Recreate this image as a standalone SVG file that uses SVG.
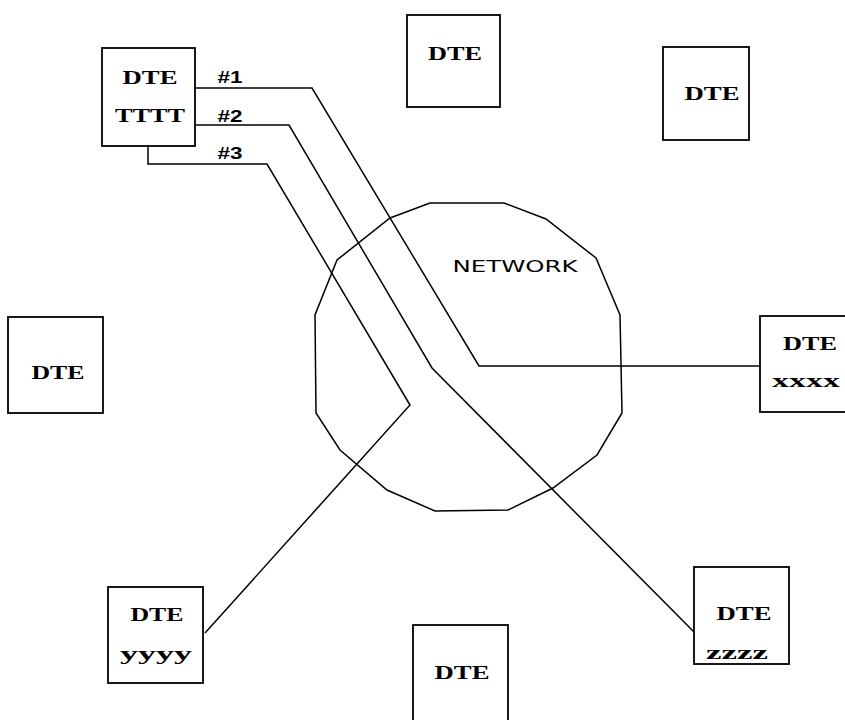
<svg xmlns="http://www.w3.org/2000/svg" width="845" height="720" viewBox="0 0 845 720">
<style>
.box{fill:#fff;stroke:#000;stroke-width:1.8}
.lbl{font-family:"Liberation Serif","DejaVu Serif",serif;font-weight:bold;font-size:19px;text-anchor:middle;fill:#000}
.sm{font-family:"Liberation Sans","DejaVu Sans",sans-serif;font-weight:bold;font-size:16px;text-anchor:middle;fill:#000}
.net{font-family:"DejaVu Sans","Liberation Sans",sans-serif;font-size:16px;text-anchor:middle;fill:#000}
.wire{fill:none;stroke:#000;stroke-width:1.5;stroke-linejoin:miter}
</style>
<rect width="845" height="720" fill="#fff"/>
<g id="network">
<polygon class="wire" points="430,203 504,203 546,219 596,258 620,315 622,413 597,455 553,488 508,510 435,511 387,490 340,450 316,413 315,315 337,260 390,218"/>
<text class="net" x="515" y="272" textLength="125" lengthAdjust="spacingAndGlyphs">NETWORK</text>
</g>
<g id="connectors">
<polyline class="wire" points="195,88 312,88 479,366 760,366"/>
<polyline class="wire" points="195,125 289,125 432,368 694,632"/>
<polyline class="wire" points="148,146 148,164 267,164 410,405 205,633"/>
<text class="sm" x="230" y="83" textLength="25" lengthAdjust="spacingAndGlyphs">#1</text>
<text class="sm" x="230" y="122" textLength="25" lengthAdjust="spacingAndGlyphs">#2</text>
<text class="sm" x="230" y="159" textLength="25" lengthAdjust="spacingAndGlyphs">#3</text>
</g>
<g id="dte-tttt">
<rect class="box" x="102" y="48" width="93" height="98"/>
<text class="lbl" x="150" y="84" textLength="55" lengthAdjust="spacingAndGlyphs">DTE</text>
<text class="lbl" x="150" y="122" textLength="70" lengthAdjust="spacingAndGlyphs">TTTT</text>
</g>
<g id="dte-top">
<rect class="box" x="407" y="15" width="93" height="92"/>
<text class="lbl" x="455" y="60" textLength="54" lengthAdjust="spacingAndGlyphs">DTE</text>
</g>
<g id="dte-topright">
<rect class="box" x="663" y="47" width="86" height="93"/>
<text class="lbl" x="712" y="100" textLength="55" lengthAdjust="spacingAndGlyphs">DTE</text>
</g>
<g id="dte-left">
<rect class="box" x="8" y="317" width="95" height="96"/>
<text class="lbl" x="58" y="379" textLength="53" lengthAdjust="spacingAndGlyphs">DTE</text>
</g>
<g id="dte-xxxx">
<rect class="box" x="760" y="316" width="95" height="96"/>
<text class="lbl" x="810" y="350" textLength="54" lengthAdjust="spacingAndGlyphs">DTE</text>
<text class="lbl" x="806" y="387" textLength="68" lengthAdjust="spacingAndGlyphs">xxxx</text>
</g>
<g id="dte-yyyy">
<rect class="box" x="108" y="587" width="95" height="96"/>
<text class="lbl" x="157" y="621" textLength="53" lengthAdjust="spacingAndGlyphs">DTE</text>
<text class="lbl" x="156" y="660" textLength="72" lengthAdjust="spacingAndGlyphs">yyyy</text>
</g>
<g id="dte-zzzz">
<rect class="box" x="694" y="567" width="95" height="97"/>
<text class="lbl" x="744" y="620" textLength="55" lengthAdjust="spacingAndGlyphs">DTE</text>
<text class="lbl" x="737" y="659" textLength="62" lengthAdjust="spacingAndGlyphs">zzzz</text>
</g>
<g id="dte-bottom">
<rect class="box" x="413" y="625" width="95" height="100"/>
<text class="lbl" x="462" y="679" textLength="55" lengthAdjust="spacingAndGlyphs">DTE</text>
</g>
</svg>
